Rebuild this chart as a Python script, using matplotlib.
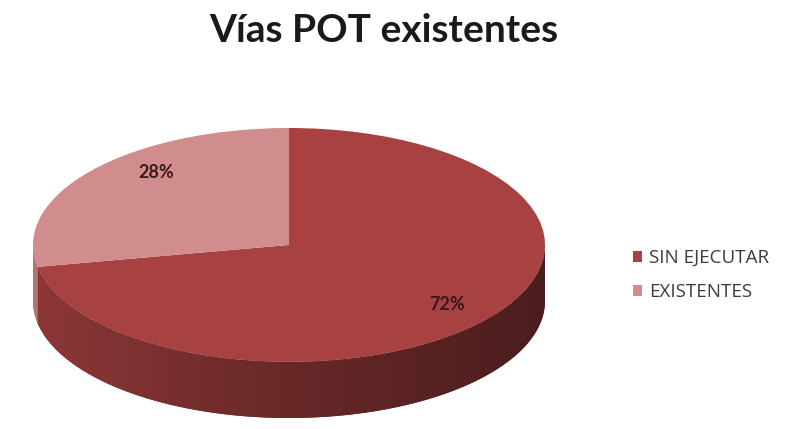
import numpy as np
import matplotlib
matplotlib.use('Agg')
import matplotlib.pyplot as plt
from matplotlib.patches import Polygon
from matplotlib.colors import LinearSegmentedColormap, to_rgb

categories = ['SIN EJECUTAR', 'EXISTENTES']
values = [72, 28]
colors = ['#A84141', '#D18D8D']
title = 'Vías POT existentes'

plt.rcParams['font.family'] = ['Lato', 'DejaVu Sans']

W, H = 789, 429
fig = plt.figure(figsize=(W / 100, H / 100), dpi=100)

depth = 0.48  # thickness of the pie in data units (radius = 1)
ax = fig.add_axes([33 / W, (H - 418) / H, 512 / W, 290 / H])

wedges, texts, autotexts = ax.pie(
    values, colors=colors, startangle=90, counterclock=False,
    autopct='%1.0f%%', pctdistance=0.8,
    wedgeprops={'linewidth': 0},
    textprops={'color': '#3A1818', 'fontsize': 13, 'fontweight': 'bold'},
)
# Excel-like 3d perspective pulls the small slice label toward the middle
autotexts[1].set_position((-0.52, 0.62))

ax.set_aspect('auto')
ax.set_xlim(-1, 1)
ax.set_ylim(-1 - depth, 1)
ax.axis('off')


def darker(c, f):
    r, g, b = to_rgb(c)
    return (r * f, g * f, b * f)


# side wall of the 3d pie (front half only, 180..360 degrees)
for w, c in zip(wedges, colors):
    t1, t2 = w.theta1, w.theta2
    for k in (-360, 0, 360):
        lo = max(t1 + k, 180)
        hi = min(t2 + k, 360)
        if hi <= lo:
            continue
        t = np.radians(np.linspace(lo, hi, 120))
        top = np.column_stack([np.cos(t), np.sin(t)])
        bot = np.column_stack([np.cos(t[::-1]), np.sin(t[::-1]) - depth])
        poly = Polygon(np.vstack([top, bot]), closed=True,
                       facecolor=darker(c, 0.7), edgecolor='none', zorder=0)
        ax.add_patch(poly)
        cmap = LinearSegmentedColormap.from_list(
            'side', [darker(c, 0.84), darker(c, 0.62), darker(c, 0.45)])
        grad = np.linspace(0, 1, 256).reshape(1, -1)
        im = ax.imshow(grad, cmap=cmap, extent=[-1, 1, -1 - depth, 0],
                       aspect='auto', zorder=0.5)
        im.set_clip_path(poly)

ax.set_xlim(-1, 1)
ax.set_ylim(-1 - depth, 1)

fig.text(384 / W, 1 - 42 / H, title, ha='center', va='baseline',
         fontsize=28, fontweight='bold', color='#1A1A1A')

fig.legend(wedges, categories, loc='center left',
           bbox_to_anchor=(633 / W, 1 - 275 / H), frameon=False,
           prop={'family': ['Open Sans', 'DejaVu Sans'], 'size': 13.5},
           borderaxespad=0, borderpad=0,
           handlelength=0.5, handleheight=0.5,
           handletextpad=0.35, labelspacing=0.85, labelcolor='#3C3C3C')

fig.savefig('out.png', dpi=100)
